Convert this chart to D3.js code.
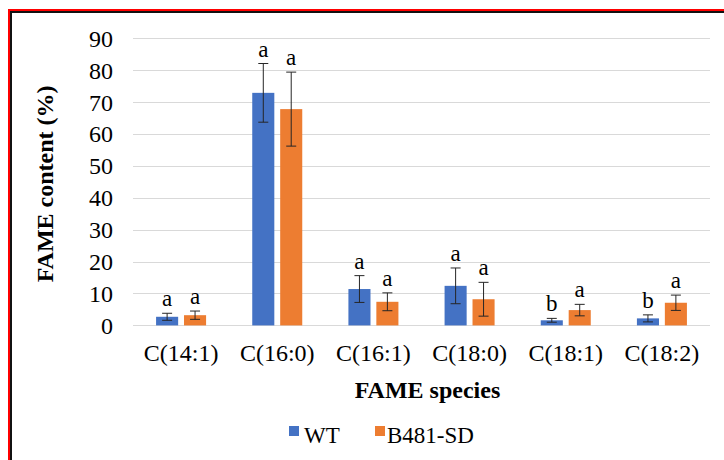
<!DOCTYPE html>
<html>
<head>
	<title></title>
</head>
<script src="https://d3js.org/d3.v7.min.js"></script>
<style>
body { margin: 0; background: #fff; }
svg text { font-family: "Liberation Serif", Tinos, "Times New Roman", Times, "DejaVu Serif", serif; fill: #000; }
.grid line { stroke: #d9d9d9; stroke-width: 1px; }
.err { stroke: #262626; stroke-width: 1px; }
</style>
<body>
<script type="text/javascript">
var categories = ["C(14:1)", "C(16:0)", "C(16:1)", "C(18:0)", "C(18:1)", "C(18:2)"];
var series = ["WT", "B481-SD"];
var wtValues = [2.7, 72.9, 11.4, 12.4, 1.6, 2.2];
var wtErrors = [1.1, 9.2, 4.2, 5.6, 0.6, 1.1];
var sdValues = [3.2, 67.8, 7.4, 8.2, 4.8, 7.1];
var sdErrors = [1.3, 11.6, 2.8, 5.3, 1.8, 2.4];
var wtLetters = ["a", "a", "a", "a", "b", "b"];
var sdLetters = ["a", "a", "a", "a", "a", "a"];
var yTicks = [0, 10, 20, 30, 40, 50, 60, 70, 80, 90];
var colors = ["#4472c4", "#ed7d31"];

var serif = "'Liberation Serif', Tinos, 'Times New Roman', Times, 'DejaVu Serif', serif";
var width = 724, height = 460;
var svg = d3.select("body").append("svg")
  .attr("width", width)
  .attr("height", height)
  .attr("font-family", serif);

// frame (left and top edges only are in view)
svg.append("rect").attr("x", 8).attr("y", 9).attr("width", 2).attr("height", height).attr("fill", "#ff0000");
svg.append("rect").attr("x", 8).attr("y", 9).attr("width", width).attr("height", 2).attr("fill", "#ff0000");
svg.append("rect").attr("x", 10).attr("y", 11).attr("width", 2).attr("height", height).attr("fill", "#111");
svg.append("rect").attr("x", 10).attr("y", 11).attr("width", width).attr("height", 2).attr("fill", "#111");

var plot = {left: 133, right: 710, top: 38.3, bottom: 325.4};

var y = d3.scaleLinear().domain([0, 90]).range([plot.bottom, plot.top]);
var x0 = d3.scaleBand().domain(categories).range([plot.left, plot.right])
  .paddingInner(0.48).paddingOuter(0.24);
var x1 = d3.scaleBand().domain(series).range([0, x0.bandwidth()]).paddingInner(0.21);

// gridlines
svg.append("g").attr("class", "grid")
  .selectAll("line").data(yTicks).enter().append("line")
  .attr("x1", plot.left).attr("x2", plot.right)
  .attr("y1", function(d) { return Math.round(y(d)) + 0.5; })
  .attr("y2", function(d) { return Math.round(y(d)) + 0.5; });

// y axis labels
var yAxis = d3.axisLeft(y).tickValues(yTicks).tickSize(0).tickPadding(20);
var yg = svg.append("g").attr("transform", "translate(" + plot.left + ",0)").call(yAxis)
  .attr("font-family", serif);
yg.select(".domain").remove();
yg.selectAll("text").attr("font-size", "24px").attr("fill", "#000").attr("dy", "0.33em");

// x axis labels
var xAxis = d3.axisBottom(x0).tickSize(0).tickPadding(19);
var xg = svg.append("g").attr("transform", "translate(0," + plot.bottom + ")").call(xAxis)
  .attr("font-family", serif);
xg.select(".domain").remove();
xg.selectAll("text").attr("font-size", "24px").attr("fill", "#000").attr("dy", "0.71em");

// bars
var rows = categories.map(function(c, i) {
  return [
    {cat: c, s: series[0], v: wtValues[i], e: wtErrors[i], l: wtLetters[i], k: 0},
    {cat: c, s: series[1], v: sdValues[i], e: sdErrors[i], l: sdLetters[i], k: 1}
  ];
});

var group = svg.append("g").selectAll("g").data(rows).enter().append("g")
  .attr("transform", function(d) { return "translate(" + x0(d[0].cat) + ",0)"; });

var item = group.selectAll("g").data(function(d) { return d; }).enter().append("g");

item.append("rect")
  .attr("x", function(d) { return x1(d.s); })
  .attr("width", x1.bandwidth())
  .attr("y", function(d) { return y(d.v); })
  .attr("height", function(d) { return y(0) - y(d.v); })
  .attr("fill", function(d) { return colors[d.k]; });

var capW = 5;
function cx(d) { return x1(d.s) + x1.bandwidth() / 2; }
item.append("line").attr("class", "err")
  .attr("x1", cx).attr("x2", cx)
  .attr("y1", function(d) { return y(d.v - d.e); })
  .attr("y2", function(d) { return y(d.v + d.e); });
item.append("line").attr("class", "err")
  .attr("x1", function(d) { return cx(d) - capW; })
  .attr("x2", function(d) { return cx(d) + capW; })
  .attr("y1", function(d) { return y(d.v + d.e); })
  .attr("y2", function(d) { return y(d.v + d.e); });
item.append("line").attr("class", "err")
  .attr("x1", function(d) { return cx(d) - capW; })
  .attr("x2", function(d) { return cx(d) + capW; })
  .attr("y1", function(d) { return y(d.v - d.e); })
  .attr("y2", function(d) { return y(d.v - d.e); });

// significance letters
item.append("text")
  .attr("x", cx)
  .attr("y", function(d) { return y(d.v + d.e) - 7; })
  .attr("text-anchor", "middle")
  .attr("font-size", "23px")
  .text(function(d) { return d.l; });

// axis titles
svg.append("text")
  .attr("x", (plot.left + plot.right) / 2 + 6).attr("y", 398)
  .attr("text-anchor", "middle")
  .attr("font-size", "24px").attr("font-weight", "bold")
  .text("FAME species");

svg.append("text")
  .attr("transform", "translate(53," + ((plot.top + plot.bottom) / 2 + 2) + ") rotate(-90)")
  .attr("text-anchor", "middle")
  .attr("font-size", "24px").attr("font-weight", "bold")
  .text("FAME content (%)");

// legend
var legendX = [289, 375];
var legend = svg.append("g").selectAll("g").data(series).enter().append("g")
  .attr("transform", function(d, i) { return "translate(" + legendX[i] + ",426)"; });
legend.append("rect").attr("width", 10).attr("height", 10)
  .attr("fill", function(d, i) { return colors[i]; });
legend.append("text").attr("x", function(d, i) { return i == 0 ? 15 : 12; }).attr("y", 17)
  .attr("font-size", "23px")
  .text(function(d) { return d; });
</script>
</body>
</html>
